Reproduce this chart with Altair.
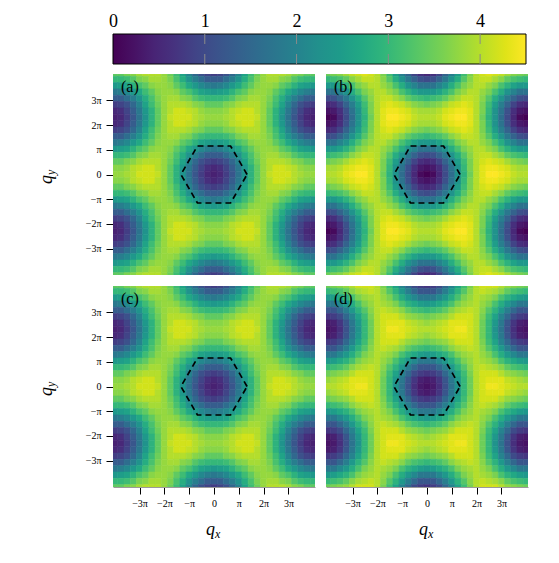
import altair as alt
import pandas as pd

# ---------------- data ----------------
# grid centres (in units of pi)
QX = [-4.0, -3.75, -3.5, -3.25, -3.0, -2.75, -2.5, -2.25, -2.0, -1.75, -1.5, -1.25, -1.0, -0.75, -0.5, -0.25,
      0.0, 0.25, 0.5, 0.75, 1.0, 1.25, 1.5, 1.75, 2.0, 2.25, 2.5, 2.75, 3.0, 3.25, 3.5, 3.75, 4.0]
QY = [4.106, 3.849, 3.592, 3.336, 3.079, 2.823, 2.566, 2.309, 2.053, 1.796, 1.540, 1.283, 1.026, 0.770, 0.513, 0.257,
      0.0, -0.257, -0.513, -0.770, -1.026, -1.283, -1.540, -1.796, -2.053, -2.309, -2.566, -2.823, -3.079, -3.336,
      -3.592, -3.849, -4.106]

# estimated intensity, in tenths, row = QY (top to bottom), column = QX (left to right)
S_A = [
    "34 34 36 37 39 40 40 40 38 35 31 26 20 15 11 9 8 9 11 15 20 26 31 35 38 40 40 40 39 37 36 34 34",
    "30 30 31 33 36 37 39 39 38 36 32 28 23 19 16 13 13 13 16 19 23 28 32 36 38 39 39 37 36 33 31 30 30",
    "24 25 26 29 32 34 37 38 38 37 34 31 27 24 21 19 18 19 21 24 27 31 34 37 38 38 37 34 32 29 26 25 24",
    "18 19 21 24 27 31 34 37 38 38 37 34 32 29 26 25 24 25 26 29 32 34 37 38 38 37 34 31 27 24 21 19 18",
    "13 13 16 19 23 28 32 36 38 39 39 37 36 33 31 30 30 30 31 33 36 37 39 39 38 36 32 28 23 19 16 13 13",
    "8 9 11 15 20 26 31 35 38 40 40 40 39 37 36 34 34 34 36 37 39 40 40 40 38 35 31 26 20 15 11 9 8",
    "5 6 9 13 18 24 29 34 38 40 42 42 41 40 38 37 37 37 38 40 41 42 42 40 38 34 29 24 18 13 9 6 5",
    "4 5 8 12 17 23 29 34 38 41 42 42 42 40 39 38 38 38 39 40 42 42 42 41 38 34 29 23 17 12 8 5 4",
    "5 6 9 13 18 24 29 34 38 40 42 42 41 40 38 37 37 37 38 40 41 42 42 40 38 34 29 24 18 13 9 6 5",
    "8 9 11 15 20 26 31 35 38 40 40 40 39 37 36 34 34 34 36 37 39 40 40 40 38 35 31 26 20 15 11 9 8",
    "13 13 16 19 23 28 32 36 38 39 39 37 36 33 31 30 30 30 31 33 36 37 39 39 38 36 32 28 23 19 16 13 13",
    "18 19 21 24 27 31 34 37 38 38 37 34 32 29 26 25 24 25 26 29 32 34 37 38 38 37 34 31 27 24 21 19 18",
    "24 25 26 29 32 34 37 38 38 37 34 31 27 24 21 19 18 19 21 24 27 31 34 37 38 38 37 34 32 29 26 25 24",
    "30 30 31 33 36 37 39 39 38 36 32 28 23 19 16 13 13 13 16 19 23 28 32 36 38 39 39 37 36 33 31 30 30",
    "34 34 36 37 39 40 40 40 38 35 31 26 20 15 11 9 8 9 11 15 20 26 31 35 38 40 40 40 39 37 36 34 34",
    "37 37 38 40 41 42 42 40 38 34 29 24 18 13 9 6 5 6 9 13 18 24 29 34 38 40 42 42 41 40 38 37 37",
    "38 38 39 40 42 42 42 41 38 34 29 23 17 12 8 5 4 5 8 12 17 23 29 34 38 41 42 42 42 40 39 38 38",
    "37 37 38 40 41 42 42 40 38 34 29 24 18 13 9 6 5 6 9 13 18 24 29 34 38 40 42 42 41 40 38 37 37",
    "34 34 36 37 39 40 40 40 38 35 31 26 20 15 11 9 8 9 11 15 20 26 31 35 38 40 40 40 39 37 36 34 34",
    "30 30 31 33 36 37 39 39 38 36 32 28 23 19 16 13 13 13 16 19 23 28 32 36 38 39 39 37 36 33 31 30 30",
    "24 25 26 29 32 34 37 38 38 37 34 31 27 24 21 19 18 19 21 24 27 31 34 37 38 38 37 34 32 29 26 25 24",
    "18 19 21 24 27 31 34 37 38 38 37 34 32 29 26 25 24 25 26 29 32 34 37 38 38 37 34 31 27 24 21 19 18",
    "13 13 16 19 23 28 32 36 38 39 39 37 36 33 31 30 30 30 31 33 36 37 39 39 38 36 32 28 23 19 16 13 13",
    "8 9 11 15 20 26 31 35 38 40 40 40 39 37 36 34 34 34 36 37 39 40 40 40 38 35 31 26 20 15 11 9 8",
    "5 6 9 13 18 24 29 34 38 40 42 42 41 40 38 37 37 37 38 40 41 42 42 40 38 34 29 24 18 13 9 6 5",
    "4 5 8 12 17 23 29 34 38 41 42 42 42 40 39 38 38 38 39 40 42 42 42 41 38 34 29 23 17 12 8 5 4",
    "5 6 9 13 18 24 29 34 38 40 42 42 41 40 38 37 37 37 38 40 41 42 42 40 38 34 29 24 18 13 9 6 5",
    "8 9 11 15 20 26 31 35 38 40 40 40 39 37 36 34 34 34 36 37 39 40 40 40 38 35 31 26 20 15 11 9 8",
    "13 13 16 19 23 28 32 36 38 39 39 37 36 33 31 30 30 30 31 33 36 37 39 39 38 36 32 28 23 19 16 13 13",
    "18 19 21 24 27 31 34 37 38 38 37 34 32 29 26 25 24 25 26 29 32 34 37 38 38 37 34 31 27 24 21 19 18",
    "24 25 26 29 32 34 37 38 38 37 34 31 27 24 21 19 18 19 21 24 27 31 34 37 38 38 37 34 32 29 26 25 24",
    "30 30 31 33 36 37 39 39 38 36 32 28 23 19 16 13 13 13 16 19 23 28 32 36 38 39 39 37 36 33 31 30 30",
    "34 34 36 37 39 40 40 40 38 35 31 26 20 15 11 9 8 9 11 15 20 26 31 35 38 40 40 40 39 37 36 34 34",
]

S_B = [
    "35 36 37 39 41 42 43 42 40 36 31 25 19 14 9 6 5 6 9 14 19 25 31 36 40 42 43 42 41 39 37 36 35",
    "30 31 32 34 37 39 41 41 40 37 33 28 23 18 14 11 10 11 14 18 23 28 33 37 40 41 41 39 37 34 32 31 30",
    "24 24 26 29 32 36 38 40 40 38 36 32 28 23 20 17 17 17 20 23 28 32 36 38 40 40 38 36 32 29 26 24 24",
    "17 17 20 23 28 32 36 38 40 40 38 36 32 29 26 24 24 24 26 29 32 36 38 40 40 38 36 32 28 23 20 17 17",
    "10 11 14 18 23 28 33 37 40 41 41 39 37 34 32 31 30 31 32 34 37 39 41 41 40 37 33 28 23 18 14 11 10",
    "5 6 9 14 19 25 31 36 40 42 43 42 41 39 37 36 35 36 37 39 41 42 43 42 40 36 31 25 19 14 9 6 5",
    "2 3 6 11 17 23 30 36 40 43 44 44 43 42 40 39 39 39 40 42 43 44 44 43 40 36 30 23 17 11 6 3 2",
    "0 1 5 10 16 23 29 35 40 43 45 45 44 43 41 40 40 40 41 43 44 45 45 43 40 35 29 23 16 10 5 1 0",
    "2 3 6 11 17 23 30 36 40 43 44 44 43 42 40 39 39 39 40 42 43 44 44 43 40 36 30 23 17 11 6 3 2",
    "5 6 9 14 19 25 31 36 40 42 43 42 41 39 37 36 35 36 37 39 41 42 43 42 40 36 31 25 19 14 9 6 5",
    "10 11 14 18 23 28 33 37 40 41 41 39 37 34 32 31 30 31 32 34 37 39 41 41 40 37 33 28 23 18 14 11 10",
    "17 17 20 23 28 32 36 38 40 40 38 36 32 29 26 24 24 24 26 29 32 36 38 40 40 38 36 32 28 23 20 17 17",
    "24 24 26 29 32 36 38 40 40 38 36 32 28 23 20 17 17 17 20 23 28 32 36 38 40 40 38 36 32 29 26 24 24",
    "30 31 32 34 37 39 41 41 40 37 33 28 23 18 14 11 10 11 14 18 23 28 33 37 40 41 41 39 37 34 32 31 30",
    "35 36 37 39 41 42 43 42 40 36 31 25 19 14 9 6 5 6 9 14 19 25 31 36 40 42 43 42 41 39 37 36 35",
    "39 39 40 42 43 44 44 43 40 36 30 23 17 11 6 3 2 3 6 11 17 23 30 36 40 43 44 44 43 42 40 39 39",
    "40 40 41 43 44 45 45 43 40 35 29 23 16 10 5 1 0 1 5 10 16 23 29 35 40 43 45 45 44 43 41 40 40",
    "39 39 40 42 43 44 44 43 40 36 30 23 17 11 6 3 2 3 6 11 17 23 30 36 40 43 44 44 43 42 40 39 39",
    "35 36 37 39 41 42 43 42 40 36 31 25 19 14 9 6 5 6 9 14 19 25 31 36 40 42 43 42 41 39 37 36 35",
    "30 31 32 34 37 39 41 41 40 37 33 28 23 18 14 11 10 11 14 18 23 28 33 37 40 41 41 39 37 34 32 31 30",
    "24 24 26 29 32 36 38 40 40 38 36 32 28 23 20 17 17 17 20 23 28 32 36 38 40 40 38 36 32 29 26 24 24",
    "17 17 20 23 28 32 36 38 40 40 38 36 32 29 26 24 24 24 26 29 32 36 38 40 40 38 36 32 28 23 20 17 17",
    "10 11 14 18 23 28 33 37 40 41 41 39 37 34 32 31 30 31 32 34 37 39 41 41 40 37 33 28 23 18 14 11 10",
    "5 6 9 14 19 25 31 36 40 42 43 42 41 39 37 36 35 36 37 39 41 42 43 42 40 36 31 25 19 14 9 6 5",
    "2 3 6 11 17 23 30 36 40 43 44 44 43 42 40 39 39 39 40 42 43 44 44 43 40 36 30 23 17 11 6 3 2",
    "0 1 5 10 16 23 29 35 40 43 45 45 44 43 41 40 40 40 41 43 44 45 45 43 40 35 29 23 16 10 5 1 0",
    "2 3 6 11 17 23 30 36 40 43 44 44 43 42 40 39 39 39 40 42 43 44 44 43 40 36 30 23 17 11 6 3 2",
    "5 6 9 14 19 25 31 36 40 42 43 42 41 39 37 36 35 36 37 39 41 42 43 42 40 36 31 25 19 14 9 6 5",
    "10 11 14 18 23 28 33 37 40 41 41 39 37 34 32 31 30 31 32 34 37 39 41 41 40 37 33 28 23 18 14 11 10",
    "17 17 20 23 28 32 36 38 40 40 38 36 32 29 26 24 24 24 26 29 32 36 38 40 40 38 36 32 28 23 20 17 17",
    "24 24 26 29 32 36 38 40 40 38 36 32 28 23 20 17 17 17 20 23 28 32 36 38 40 40 38 36 32 29 26 24 24",
    "30 31 32 34 37 39 41 41 40 37 33 28 23 18 14 11 10 11 14 18 23 28 33 37 40 41 41 39 37 34 32 31 30",
    "35 36 37 39 41 42 43 42 40 36 31 25 19 14 9 6 5 6 9 14 19 25 31 36 40 42 43 42 41 39 37 36 35",
]

# panel (c) reads the same as panel (a)
S_C = list(S_A)

S_D = [
    "35 36 37 38 40 42 42 42 40 36 31 26 20 15 10 8 7 8 10 15 20 26 31 36 40 42 42 42 40 38 37 36 35",
    "30 31 32 34 37 39 40 41 40 37 33 29 24 19 15 12 12 12 15 19 24 29 33 37 40 41 40 39 37 34 32 31 30",
    "24 25 27 29 32 36 38 39 40 38 36 32 28 24 21 18 18 18 21 24 28 32 36 38 40 39 38 36 32 29 27 25 24",
    "18 18 21 24 28 32 36 38 40 39 38 36 32 29 27 25 24 25 27 29 32 36 38 39 40 38 36 32 28 24 21 18 18",
    "12 12 15 19 24 29 33 37 40 41 40 39 37 34 32 31 30 31 32 34 37 39 40 41 40 37 33 29 24 19 15 12 12",
    "7 8 10 15 20 26 31 36 40 42 42 42 40 38 37 36 35 36 37 38 40 42 42 42 40 36 31 26 20 15 10 8 7",
    "3 4 7 12 18 24 30 35 40 42 43 43 43 41 40 39 38 39 40 41 43 43 43 42 40 35 30 24 18 12 7 4 3",
    "2 3 6 11 17 23 30 35 40 42 44 44 43 42 41 40 40 40 41 42 43 44 44 42 40 35 30 23 17 11 6 3 2",
    "3 4 7 12 18 24 30 35 40 42 43 43 43 41 40 39 38 39 40 41 43 43 43 42 40 35 30 24 18 12 7 4 3",
    "7 8 10 15 20 26 31 36 40 42 42 42 40 38 37 36 35 36 37 38 40 42 42 42 40 36 31 26 20 15 10 8 7",
    "12 12 15 19 24 29 33 37 40 41 40 39 37 34 32 31 30 31 32 34 37 39 40 41 40 37 33 29 24 19 15 12 12",
    "18 18 21 24 28 32 36 38 40 39 38 36 32 29 27 25 24 25 27 29 32 36 38 39 40 38 36 32 28 24 21 18 18",
    "24 25 27 29 32 36 38 39 40 38 36 32 28 24 21 18 18 18 21 24 28 32 36 38 40 39 38 36 32 29 27 25 24",
    "30 31 32 34 37 39 40 41 40 37 33 29 24 19 15 12 12 12 15 19 24 29 33 37 40 41 40 39 37 34 32 31 30",
    "35 36 37 38 40 42 42 42 40 36 31 26 20 15 10 8 7 8 10 15 20 26 31 36 40 42 42 42 40 38 37 36 35",
    "38 39 40 41 43 43 43 42 40 35 30 24 18 12 7 4 3 4 7 12 18 24 30 35 40 42 43 43 43 41 40 39 38",
    "40 40 41 42 43 44 44 42 40 35 30 23 17 11 6 3 2 3 6 11 17 23 30 35 40 42 44 44 43 42 41 40 40",
    "38 39 40 41 43 43 43 42 40 35 30 24 18 12 7 4 3 4 7 12 18 24 30 35 40 42 43 43 43 41 40 39 38",
    "35 36 37 38 40 42 42 42 40 36 31 26 20 15 10 8 7 8 10 15 20 26 31 36 40 42 42 42 40 38 37 36 35",
    "30 31 32 34 37 39 40 41 40 37 33 29 24 19 15 12 12 12 15 19 24 29 33 37 40 41 40 39 37 34 32 31 30",
    "24 25 27 29 32 36 38 39 40 38 36 32 28 24 21 18 18 18 21 24 28 32 36 38 40 39 38 36 32 29 27 25 24",
    "18 18 21 24 28 32 36 38 40 39 38 36 32 29 27 25 24 25 27 29 32 36 38 39 40 38 36 32 28 24 21 18 18",
    "12 12 15 19 24 29 33 37 40 41 40 39 37 34 32 31 30 31 32 34 37 39 40 41 40 37 33 29 24 19 15 12 12",
    "7 8 10 15 20 26 31 36 40 42 42 42 40 38 37 36 35 36 37 38 40 42 42 42 40 36 31 26 20 15 10 8 7",
    "3 4 7 12 18 24 30 35 40 42 43 43 43 41 40 39 38 39 40 41 43 43 43 42 40 35 30 24 18 12 7 4 3",
    "2 3 6 11 17 23 30 35 40 42 44 44 43 42 41 40 40 40 41 42 43 44 44 42 40 35 30 23 17 11 6 3 2",
    "3 4 7 12 18 24 30 35 40 42 43 43 43 41 40 39 38 39 40 41 43 43 43 42 40 35 30 24 18 12 7 4 3",
    "7 8 10 15 20 26 31 36 40 42 42 42 40 38 37 36 35 36 37 38 40 42 42 42 40 36 31 26 20 15 10 8 7",
    "12 12 15 19 24 29 33 37 40 41 40 39 37 34 32 31 30 31 32 34 37 39 40 41 40 37 33 29 24 19 15 12 12",
    "18 18 21 24 28 32 36 38 40 39 38 36 32 29 27 25 24 25 27 29 32 36 38 39 40 38 36 32 28 24 21 18 18",
    "24 25 27 29 32 36 38 39 40 38 36 32 28 24 21 18 18 18 21 24 28 32 36 38 40 39 38 36 32 29 27 25 24",
    "30 31 32 34 37 39 40 41 40 37 33 29 24 19 15 12 12 12 15 19 24 29 33 37 40 41 40 39 37 34 32 31 30",
    "35 36 37 38 40 42 42 42 40 36 31 26 20 15 10 8 7 8 10 15 20 26 31 36 40 42 42 42 40 38 37 36 35",
]

# dashed hexagon (first Brillouin zone), in units of pi
HEX_QX = [1.333, 0.667, -0.667, -1.333, -0.667, 0.667, 1.333]
HEX_QY = [0.0, 1.155, 1.155, 0.0, -1.155, -1.155, 0.0]

AXIS_TICKS = [-3, -2, -1, 0, 1, 2, 3]
CB_RANGE = [0.0, 4.5]
CB_LABELS = [0, 1, 2, 3, 4]
CB_MARKS = [1, 2, 3, 4]
PANEL_LABELS = ["(a)", "(b)", "(c)", "(d)"]

# ---------------- styling ----------------
SERIF = "Liberation Serif"
W, H = 202, 201
LIM = 4.07
LEFT_GUTTER = -95   # common left edge shared by the colour bar and the left panels
VIRIDIS_STOPS = [
    (0.00, "#440154"), (0.05, "#471164"), (0.10, "#482475"), (0.15, "#46337f"), (0.20, "#414487"),
    (0.25, "#3b528b"), (0.30, "#355f8d"), (0.35, "#2f6c8e"), (0.40, "#2a788e"), (0.45, "#25848e"),
    (0.50, "#21918c"), (0.55, "#1e9b8a"), (0.60, "#22a884"), (0.65, "#2fb47c"), (0.70, "#44bf70"),
    (0.75, "#5ec962"), (0.80, "#7ad151"), (0.85, "#9bd93c"), (0.90, "#bddf26"), (0.95, "#dfe318"),
    (1.00, "#fde725"),
]

LBL = ("datum.value == 0 ? '0' : datum.value == 1 ? 'π' : datum.value == -1 ? '−π' : "
       "datum.value < 0 ? '−' + abs(datum.value) + 'π' : datum.value + 'π'")


def grid_frame(rows):
    assert len(rows) == len(QY)
    hx = (QX[1] - QX[0]) / 2
    hy = (QY[0] - QY[1]) / 2
    recs = []
    for i, r in enumerate(rows):
        vals = r.split()
        assert len(vals) == len(QX), (i, len(vals))
        for j, v in enumerate(vals):
            recs.append({"x0": QX[j] - hx, "x1": QX[j] + hx,
                         "y0": QY[i] - hy, "y1": QY[i] + hy, "s": int(v) / 10})
    return pd.DataFrame(recs)


xs = alt.Scale(domain=[-LIM, LIM], nice=False, zero=False)
ys = alt.Scale(domain=[-LIM, LIM], nice=False, zero=False)
cs = alt.Scale(scheme="viridis", domain=CB_RANGE)
ONE = pd.DataFrame({"k": [0]})


def x_axis():
    return alt.Axis(values=AXIS_TICKS, labelExpr=LBL, title=None, grid=False, tickSize=7,
                    tickColor="black", tickWidth=1, domain=True, domainColor="#9a9a9a",
                    domainWidth=1, labelFont=SERIF, labelFontSize=10, labelColor="black",
                    labelPadding=4, labelFlush=False, labelOverlap=False)


def y_axis():
    return alt.Axis(values=AXIS_TICKS, labelExpr=LBL, title=None, grid=False, tickSize=7,
                    tickColor="black", tickWidth=1, domain=False,
                    labelFont=SERIF, labelFontSize=10, labelColor="black",
                    labelPadding=5, labelFlush=False, labelOverlap=False)


def gutter():
    return alt.Chart(ONE).mark_point(opacity=0, size=1).encode(
        x=alt.value(LEFT_GUTTER), y=alt.value(0))


def panel(rows, label, show_x, show_y):
    df = grid_frame(rows)
    ax = x_axis() if show_x else None
    ay = y_axis() if show_y else None
    heat = alt.Chart(df).mark_rect(clip=True, strokeWidth=0.6).encode(
        x=alt.X("x0:Q", scale=xs, axis=ax), x2="x1",
        y=alt.Y("y0:Q", scale=ys, axis=ay), y2="y1",
        color=alt.Color("s:Q", scale=cs, legend=None),
        stroke=alt.Stroke("s:Q", scale=cs, legend=None),
    )
    hexdf = pd.DataFrame({"x0": HEX_QX, "y0": HEX_QY, "o": list(range(len(HEX_QX)))})
    hexl = alt.Chart(hexdf).mark_line(color="black", strokeDash=[6, 4], strokeWidth=1.7).encode(
        x=alt.X("x0:Q", scale=xs, axis=ax), y=alt.Y("y0:Q", scale=ys, axis=ay), order="o:Q")
    lab = alt.Chart(pd.DataFrame({"t": [label]})).mark_text(
        font=SERIF, fontSize=16, align="left", baseline="middle", color="black").encode(
        text="t:N", x=alt.value(8), y=alt.value(13))
    layers = [heat, hexl, lab]
    if show_x:
        layers.append(alt.Chart(ONE).mark_text(text="q", font=SERIF, fontStyle="italic", fontSize=18,
                                               align="left", baseline="alphabetic", color="black")
                      .encode(x=alt.value(93), y=alt.value(249)))
        layers.append(alt.Chart(ONE).mark_text(text="x", font=SERIF, fontStyle="italic", fontSize=12,
                                               align="left", baseline="alphabetic", color="black")
                      .encode(x=alt.value(102), y=alt.value(252)))
    if show_y:
        layers.append(alt.Chart(ONE).mark_text(text="q", font=SERIF, fontStyle="italic", fontSize=18,
                                               angle=270, align="left", baseline="alphabetic", color="black")
                      .encode(x=alt.value(-61), y=alt.value(110)))
        layers.append(alt.Chart(ONE).mark_text(text="y", font=SERIF, fontStyle="italic", fontSize=12,
                                               angle=270, align="left", baseline="alphabetic", color="black")
                      .encode(x=alt.value(-58), y=alt.value(101)))
        layers.append(gutter())
    return alt.layer(*layers).properties(width=W, height=H)


# ---------------- colour bar ----------------
cb_scale = alt.Scale(domain=CB_RANGE, nice=False, zero=False)
cb_axis = alt.Axis(orient="top", values=CB_LABELS, ticks=False, domain=False, grid=False,
                   labelFont=SERIF, labelFontSize=18, labelColor="black", labelPadding=4,
                   labelFlush=False, title=None)
grad = {"gradient": "linear", "x1": 0, "x2": 1, "y1": 0, "y2": 0,
        "stops": [{"offset": o, "color": c} for o, c in VIRIDIS_STOPS]}
cb_bar = alt.Chart(pd.DataFrame({"lo": [CB_RANGE[0]], "hi": [CB_RANGE[1]]})).mark_rect(
    fill=grad, stroke="black", strokeWidth=1).encode(
    x=alt.X("lo:Q", scale=cb_scale, axis=cb_axis), x2="hi",
    y=alt.value(0), y2=alt.value(30))
cb_ticks = alt.Chart(pd.DataFrame({"t": CB_MARKS})).mark_rule(
    color="#8a8a8a", strokeWidth=1, strokeDash=[10, 10]).encode(
    x=alt.X("t:Q", scale=cb_scale, axis=cb_axis), y=alt.value(0), y2=alt.value(30))
cbar = alt.layer(cb_bar, cb_ticks, gutter()).properties(width=413, height=30)

pa = panel(S_A, PANEL_LABELS[0], False, True)
pb = panel(S_B, PANEL_LABELS[1], False, False)
pc = panel(S_C, PANEL_LABELS[2], True, True)
pd_ = panel(S_D, PANEL_LABELS[3], True, False)

row1 = alt.hconcat(pa, pb, spacing=11).resolve_scale(x="independent", y="independent")
row2 = alt.hconcat(pc, pd_, spacing=11).resolve_scale(x="independent", y="independent")
body = alt.vconcat(row1, row2, spacing=10).resolve_scale(x="independent", y="independent")

chart = (
    alt.vconcat(cbar, body, spacing=8)
    .resolve_scale(x="independent", y="independent")
    .properties(padding={"left": 9, "top": 4, "right": 5, "bottom": 5})
    .configure_view(stroke=None)
)

chart.save("out.html", embed_options={"renderer": "svg", "actions": False})
